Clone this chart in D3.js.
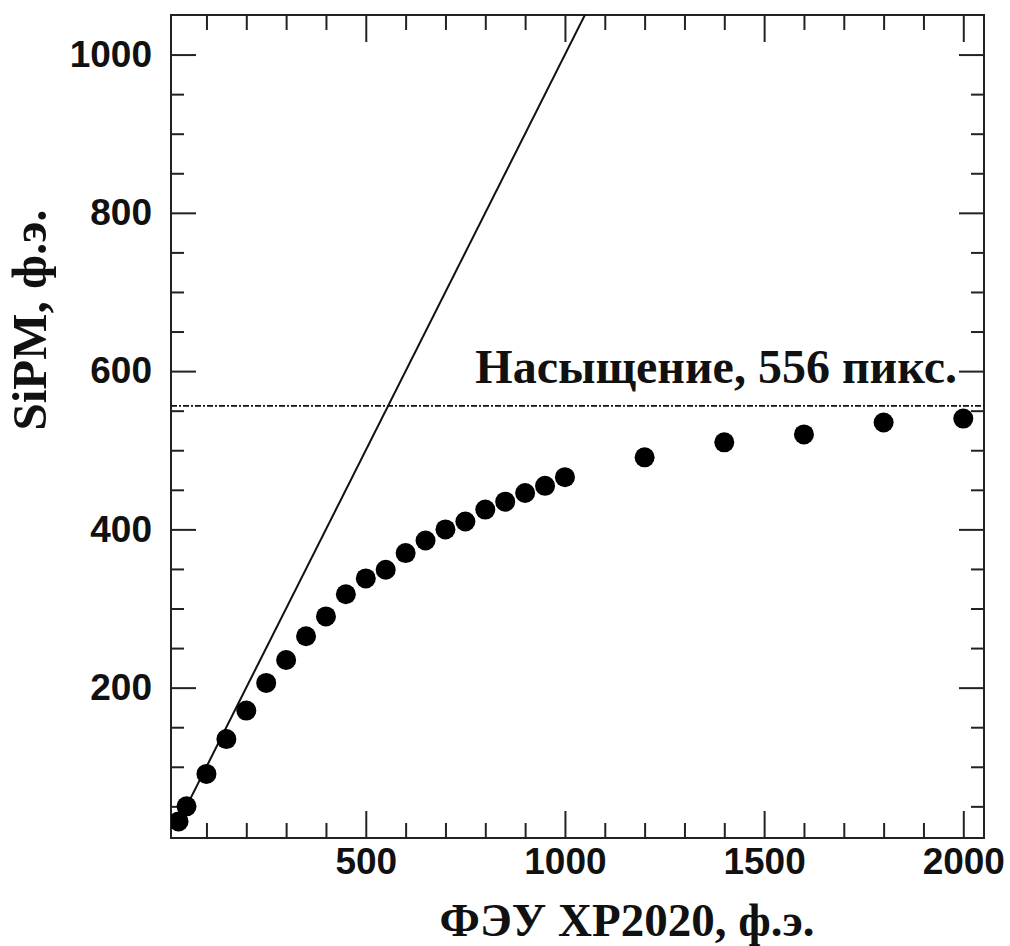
<!DOCTYPE html>
<html>
<head>
<meta charset="utf-8">
<script src="https://cdn.jsdelivr.net/npm/d3@7"></script>
<style>
  body { margin: 0; background: #fff; }
  .tick text { font-family: 'Liberation Sans', Arial, sans-serif; font-weight: bold; font-size: 37px; fill: #111; }
  .tick line { stroke: #222; stroke-width: 2; }
  .title { font-family: 'Liberation Serif', 'Times New Roman', serif; font-weight: bold; fill: #111; }
</style>
</head>
<body>
<svg id="chart"></svg>
<script>
'use strict';

// PMT photoelectrons vs SiPM photoelectrons
var pmtValues  = [30, 50, 100, 150, 200, 250, 300, 350, 400, 450, 500, 550, 600, 650, 700,
                  750, 800, 850, 900, 950, 1000, 1200, 1400, 1600, 1800, 2000];
var sipmValues = [31, 50, 91, 135, 171, 206, 235, 265, 290, 318, 338, 349, 370, 386, 400,
                  410, 425, 435, 446, 455, 466, 491, 510, 520, 535, 540];
var saturation = 556;
var linearRange = [25, 1100];

var xMajorTicks = [500, 1000, 1500, 2000];
var yMajorTicks = [200, 400, 600, 800, 1000];
var xMinorTicks = d3.range(100, 2100, 100).filter(function (v) { return xMajorTicks.indexOf(v) < 0; });
var yMinorTicks = d3.range(50, 1050, 50).filter(function (v) { return yMajorTicks.indexOf(v) < 0; });

var xTitle = 'ФЭУ XP2020, ф.э.';
var yTitle = 'SiPM, ф.э.';
var satLabel = 'Насыщение, 556 пикс.';

var width = 1010, height = 946;
var margin = {top: 15, right: 26, bottom: 108, left: 171};

var svg = d3.select('#chart')
  .attr('width', width)
  .attr('height', height);

var x = d3.scaleLinear().domain([11, 2052]).range([margin.left, width - margin.right]);
var y = d3.scaleLinear().domain([10, 1050]).range([height - margin.bottom, margin.top]);
var fmt = d3.format('d');

svg.append('defs').append('clipPath').attr('id', 'plot-clip')
  .append('rect')
  .attr('x', x.range()[0]).attr('y', y.range()[1])
  .attr('width', x.range()[1] - x.range()[0])
  .attr('height', y.range()[0] - y.range()[1]);

function addAxis(axis, tx, ty) {
  var g = svg.append('g')
    .attr('transform', 'translate(' + tx + ',' + ty + ')')
    .call(axis);
  g.select('.domain').remove();
  return g;
}

var x0 = x.range()[0], x1 = x.range()[1];
var y0 = y.range()[0], y1 = y.range()[1];

// bottom
addAxis(d3.axisBottom(x).tickValues(xMajorTicks).tickSize(-27).tickPadding(10).tickFormat(fmt), 0, y0);
addAxis(d3.axisBottom(x).tickValues(xMinorTicks).tickSize(-15).tickFormat(''), 0, y0);
// top
addAxis(d3.axisTop(x).tickValues(xMajorTicks).tickSize(-27).tickFormat(''), 0, y1);
addAxis(d3.axisTop(x).tickValues(xMinorTicks).tickSize(-15).tickFormat(''), 0, y1);
// left
addAxis(d3.axisLeft(y).tickValues(yMajorTicks).tickSize(-25).tickPadding(19).tickFormat(fmt), x0, 0);
addAxis(d3.axisLeft(y).tickValues(yMinorTicks).tickSize(-13).tickFormat(''), x0, 0);
// right
addAxis(d3.axisRight(y).tickValues(yMajorTicks).tickSize(-25).tickFormat(''), x1, 0);
addAxis(d3.axisRight(y).tickValues(yMinorTicks).tickSize(-13).tickFormat(''), x1, 0);

// frame
svg.append('rect')
  .attr('x', x0).attr('y', y1)
  .attr('width', x1 - x0).attr('height', y0 - y1)
  .attr('fill', 'none')
  .attr('stroke', '#222')
  .attr('stroke-width', 2);

var plot = svg.append('g').attr('clip-path', 'url(#plot-clip)');

// saturation level
plot.append('line')
  .attr('x1', x0).attr('x2', x1)
  .attr('y1', y(saturation)).attr('y2', y(saturation))
  .attr('stroke', '#111')
  .attr('stroke-width', 1.8)
  .attr('stroke-dasharray', '6,2,2,2');

// linear response y = x
var line = d3.line()
  .x(function (d) { return x(d); })
  .y(function (d) { return y(d); });

plot.append('path')
  .attr('d', line(linearRange))
  .attr('fill', 'none')
  .attr('stroke', '#111')
  .attr('stroke-width', 2);

plot.selectAll('circle.pt')
  .data(pmtValues)
  .enter()
  .append('circle')
  .classed('pt', true)
  .attr('cx', function (d) { return x(d); })
  .attr('cy', function (d, i) { return y(sipmValues[i]); })
  .attr('r', 10)
  .attr('fill', '#000');

svg.append('text')
  .attr('class', 'title')
  .attr('x', 957)
  .attr('y', 383)
  .attr('text-anchor', 'end')
  .style('font-size', '48px')
  .text(satLabel);

svg.append('text')
  .attr('class', 'title')
  .attr('x', 627)
  .attr('y', 936)
  .attr('text-anchor', 'middle')
  .style('font-size', '47px')
  .text(xTitle);

svg.append('text')
  .attr('class', 'title')
  .attr('transform', 'translate(46,320) rotate(-90)')
  .attr('text-anchor', 'middle')
  .style('font-size', '49px')
  .text(yTitle);
</script>
</body>
</html>
